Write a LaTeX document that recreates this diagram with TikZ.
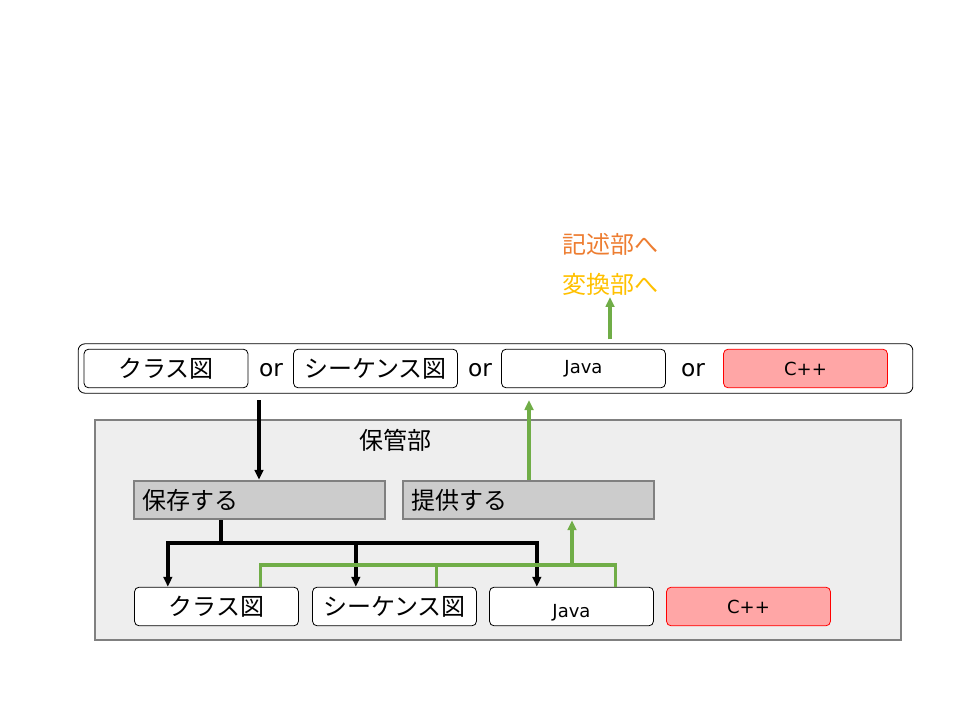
\documentclass[tikz,border=0pt]{standalone}
\usepackage{fontspec}
\setmainfont{DejaVu Sans}
\newfontfamily\jp{Noto Sans CJK JP}
\usetikzlibrary{arrows.meta}
\definecolor{cppfill}{HTML}{FFA6A6}
\definecolor{storefill}{HTML}{EEEEEE}
\definecolor{opfill}{HTML}{CCCCCC}
\definecolor{framegray}{HTML}{808080}
\definecolor{flowgreen}{HTML}{70AD47}
\definecolor{toorange}{HTML}{ED7D31}
\definecolor{togold}{HTML}{FFC000}
\begin{document}
\begin{tikzpicture}[x=0.75pt,y=-0.75pt,
    item/.style={draw, rounded corners=3.5pt, fill=white, line width=0.6pt,
      minimum width=123pt, minimum height=29pt, inner sep=0pt, font=\jp\fontsize{18}{20}\selectfont},
    cpp/.style={item, draw=red, fill=cppfill, font=\fontsize{13.5}{15}\selectfont},
    code/.style={item, font=\fontsize{13.5}{15}\selectfont},
    op/.style={draw=framegray, fill=opfill, line width=1.8pt, minimum height=28.5pt,
      text width=176pt, inner xsep=6pt, align=left, font=\jp\fontsize{18}{20}\selectfont},
    word/.style={inner sep=0pt, font=\fontsize{17.5}{19}\selectfont},
    dest/.style={inner sep=0pt, font=\jp\fontsize{18}{20}\selectfont},
    flow/.style={line width=2.5pt, -{Triangle[length=7.5pt, width=6.5pt]}},
    feed/.style={flow, flowgreen},
    tie/.style={line width=2.5pt, flowgreen}]

  \useasboundingbox (0,0) rectangle (960,720);

  % input row
  \node (input) [draw, rounded corners=5pt, line width=0.6pt, minimum width=626pt,
    minimum height=37pt] at (495.5,368.5) {};
  \node (inClass) [item] at (166,368.5) {クラス図};
  \node (inSeq)   [item] at (375.5,368.5) {シーケンス図};
  \node (inJava)  [code] at (583.5,368.5) {Java};
  \node (inCpp)   [cpp]  at (805.5,368.5) {C++};
  \node (or1) [word] at (271,370) {or};
  \node (or2) [word] at (480,370) {or};
  \node (or3) [word] at (693,370) {or};

  % destinations
  \node (toDesc) [dest, text=toorange] at (610,244) {記述部へ};
  \node (toConv) [dest, text=togold]   at (610,284) {変換部へ};

  % storage unit
  \node (store) [draw=framegray, fill=storefill, line width=1.8pt,
    minimum width=604.5pt, minimum height=165pt] at (498,530) {};
  \node (storeTitle) [dest] at (395,440) {保管部};
  \node (save)    [op] at (259.5,500) {保存する};
  \node (provide) [op] at (528.5,500) {提供する};

  % stored items
  \node (stClass) [item] at (216.5,606.5) {クラス図};
  \node (stSeq)   [item] at (394.5,606.5) {シーケンス図};
  \node (stJava)  [code, label={[font=\fontsize{13.5}{15}\selectfont, yshift=-4.5pt]center:Java}]
    at (571.5,606.5) {};
  \node (stCpp)   [cpp]  at (748.5,606.5) {C++};

  % saving
  \coordinate (inTap) at (259,400);
  \coordinate (saveFork) at (221,543);
  \draw [flow] (inTap) -- (inTap |- save.north);
  \draw [line width=2.5pt] (save.south -| saveFork) -- (saveFork);
  \draw [flow] (saveFork) -| ([xshift=-36.5pt]stClass.north);
  \draw [flow] (saveFork) -| ([xshift=-29pt]stSeq.north);
  \draw [flow] (saveFork) -| ([xshift=-26pt]stJava.north);

  % providing
  \coordinate (feedBus) at (572,565);
  \draw [tie] ([xshift=33pt]stClass.north) |- (feedBus);
  \draw [tie] ([xshift=31.5pt]stSeq.north) -- ([xshift=31.5pt]stSeq.north |- feedBus);
  \draw [tie] ([xshift=33pt]stJava.north) |- (feedBus);
  \draw [feed] (feedBus) -- (feedBus |- provide.south);
  \coordinate (outTap) at (529,400);
  \draw [feed] (provide.north -| outTap) -- (outTap);
  \coordinate (outHead) at (610,297);
  \draw [feed] (outHead |- input.north) ++(0,-4) -- (outHead);

\end{tikzpicture}
\end{document}
